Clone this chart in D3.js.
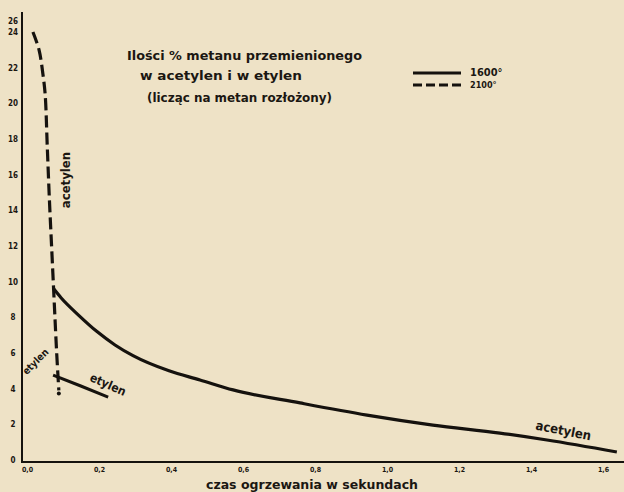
<!DOCTYPE html>
<html>
<head>
<meta charset="utf-8">
<script src="https://cdn.jsdelivr.net/npm/d3@7.9.0/dist/d3.min.js"></script>
<style>
  html, body { margin: 0; padding: 0; background: #eee2c6; }
  svg { display: block; }
  text { font-family: "DejaVu Sans Condensed", "DejaVu Sans", sans-serif; fill: #1b1712; font-weight: bold; }
</style>
</head>
<body>
<svg id="chart" width="624" height="492"></svg>
<script>
// --- data (x: seconds, y: % methane) ---
// 2100° acetylen (dashed)
const acet2100X = [0.022, 0.039, 0.050, 0.056, 0.062, 0.068, 0.075, 0.082, 0.088, 0.094];
const acet2100Y = [24.0, 23.0, 21.6, 20.5, 17.5, 14.5, 11.5, 8.5, 6.0, 3.9];
// 1600° acetylen (solid)
const acet1600X = [0.078, 0.10, 0.15, 0.20, 0.25, 0.30, 0.40, 0.486, 0.578, 0.764, 0.95, 1.133, 1.319, 1.45, 1.644];
const acet1600Y = [9.64, 9.1, 8.1, 7.2, 6.45, 5.85, 5.0, 4.49, 3.93, 3.20, 2.52, 1.96, 1.51, 1.12, 0.45];
// 1600° etylen (solid)
const etyl1600X = [0.078, 0.155, 0.231];
const etyl1600Y = [4.76, 4.15, 3.53];

const xTicks = [0, 0.2, 0.4, 0.6, 0.8, 1.0, 1.2, 1.4, 1.6];
const yTicks = [0, 2, 4, 6, 8, 10, 12, 14, 16, 18, 20, 22, 24];
const legendLabels = ['1600°', '2100°'];

const svg = d3.select('#chart');
const W = 624, H = 492;

const x = d3.scaleLinear().domain([0, 1.6]).range([25, 601]);
const y = d3.scaleLinear().domain([0, 24]).range([460, 32]);

const ink = '#15120e';

// axes frame
svg.append('line').attr('x1', 21).attr('x2', W).attr('y1', 462).attr('y2', 462)
  .attr('stroke', ink).attr('stroke-width', 2.2);
svg.append('line').attr('x1', 22).attr('x2', 22).attr('y1', 12).attr('y2', 463)
  .attr('stroke', ink).attr('stroke-width', 2);

// tick labels (comma decimals, as in the scan)
const xAxis = d3.axisBottom(x).tickValues(xTicks).tickSize(0)
  .tickFormat(d => d3.format('.1f')(d).replace('.', ','));
const gx = svg.append('g').attr('transform', 'translate(2,463)').call(xAxis);
gx.select('.domain').remove();
gx.selectAll('text').attr('font-size', 7).attr('dy', '0.9em')
  .style('font-family', '"DejaVu Sans Condensed", sans-serif').style('font-weight', 'bold');

const yAxis = d3.axisLeft(y).tickValues(yTicks).tickSize(0);
const gy = svg.append('g').attr('transform', 'translate(18,0)').call(yAxis);
gy.select('.domain').remove();
gy.selectAll('text').attr('font-size', 8).attr('text-anchor', 'middle').attr('x', -5)
  .style('font-family', '"DejaVu Sans Condensed", sans-serif').style('font-weight', 'bold');
// the extra "26" squeezed above 24
svg.append('text').attr('x', 13).attr('y', y(24) - 8).attr('text-anchor', 'middle')
  .attr('font-size', 8).text('26');

// curves
const zip = (xs, ys) => xs.map((v, i) => [v, ys[i]]);
const line = d3.line().x(d => x(d[0])).y(d => y(d[1])).curve(d3.curveCatmullRom.alpha(0.5));
const smooth = d3.line().x(d => x(d[0])).y(d => y(d[1])).curve(d3.curveMonotoneX);

svg.append('path').datum(zip(acet2100X, acet2100Y)).attr('d', line)
  .attr('fill', 'none').attr('stroke', ink).attr('stroke-width', 3.2)
  .attr('stroke-dasharray', '12,5');
svg.append('circle').attr('cx', x(acet2100X[acet2100X.length - 1])).attr('cy', y(acet2100Y[acet2100Y.length - 1]) + 3)
  .attr('r', 2).attr('fill', ink);

svg.append('path').datum(zip(acet1600X, acet1600Y)).attr('d', smooth)
  .attr('fill', 'none').attr('stroke', ink).attr('stroke-width', 3.2);

svg.append('path').datum(zip(etyl1600X, etyl1600Y)).attr('d', smooth)
  .attr('fill', 'none').attr('stroke', ink).attr('stroke-width', 3);

// curve labels
function label(txt, cx, cy, rot, size) {
  svg.append('text').attr('transform', `translate(${cx},${cy}) rotate(${rot})`)
    .attr('text-anchor', 'middle').attr('dominant-baseline', 'middle')
    .attr('font-size', size).text(txt);
}
label('acetylen', x(0.115), y(15.7), -90, 13);
label('etylen', x(0.23), y(4.2), 24, 12);
label('etylen', x(0.03), y(5.5), -45, 10);
label('acetylen', x(1.495), y(1.6), 11, 13);

// title
const title = ['Ilości % metanu przemienionego', 'w acetylen i w etylen', '(licząc na metan rozłożony)'];
const tx = [127, 140, 147], ty = [60, 80, 102], tl = [235, 162, 185];
title.forEach((t, i) => {
  svg.append('text').attr('x', tx[i]).attr('y', ty[i]).attr('font-size', 13)
    .attr('textLength', tl[i]).attr('lengthAdjust', 'spacingAndGlyphs').text(t);
});

// legend
const lg = svg.append('g').attr('transform', 'translate(413,73)');
legendLabels.forEach((t, i) => {
  lg.append('line').attr('x1', 0).attr('x2', 48).attr('y1', i * 12).attr('y2', i * 12)
    .attr('stroke', ink).attr('stroke-width', 3)
    .attr('stroke-dasharray', i === 1 ? '9,4' : null);
  lg.append('text').attr('x', 57).attr('y', i * 12 + 3).attr('font-size', i === 0 ? 11 : 9).text(t);
});

// x axis title
svg.append('text').attr('x', 206).attr('y', 489).attr('font-size', 13)
  .attr('textLength', 212).attr('lengthAdjust', 'spacingAndGlyphs')
  .text('czas ogrzewania w sekundach');
</script>
</body>
</html>
